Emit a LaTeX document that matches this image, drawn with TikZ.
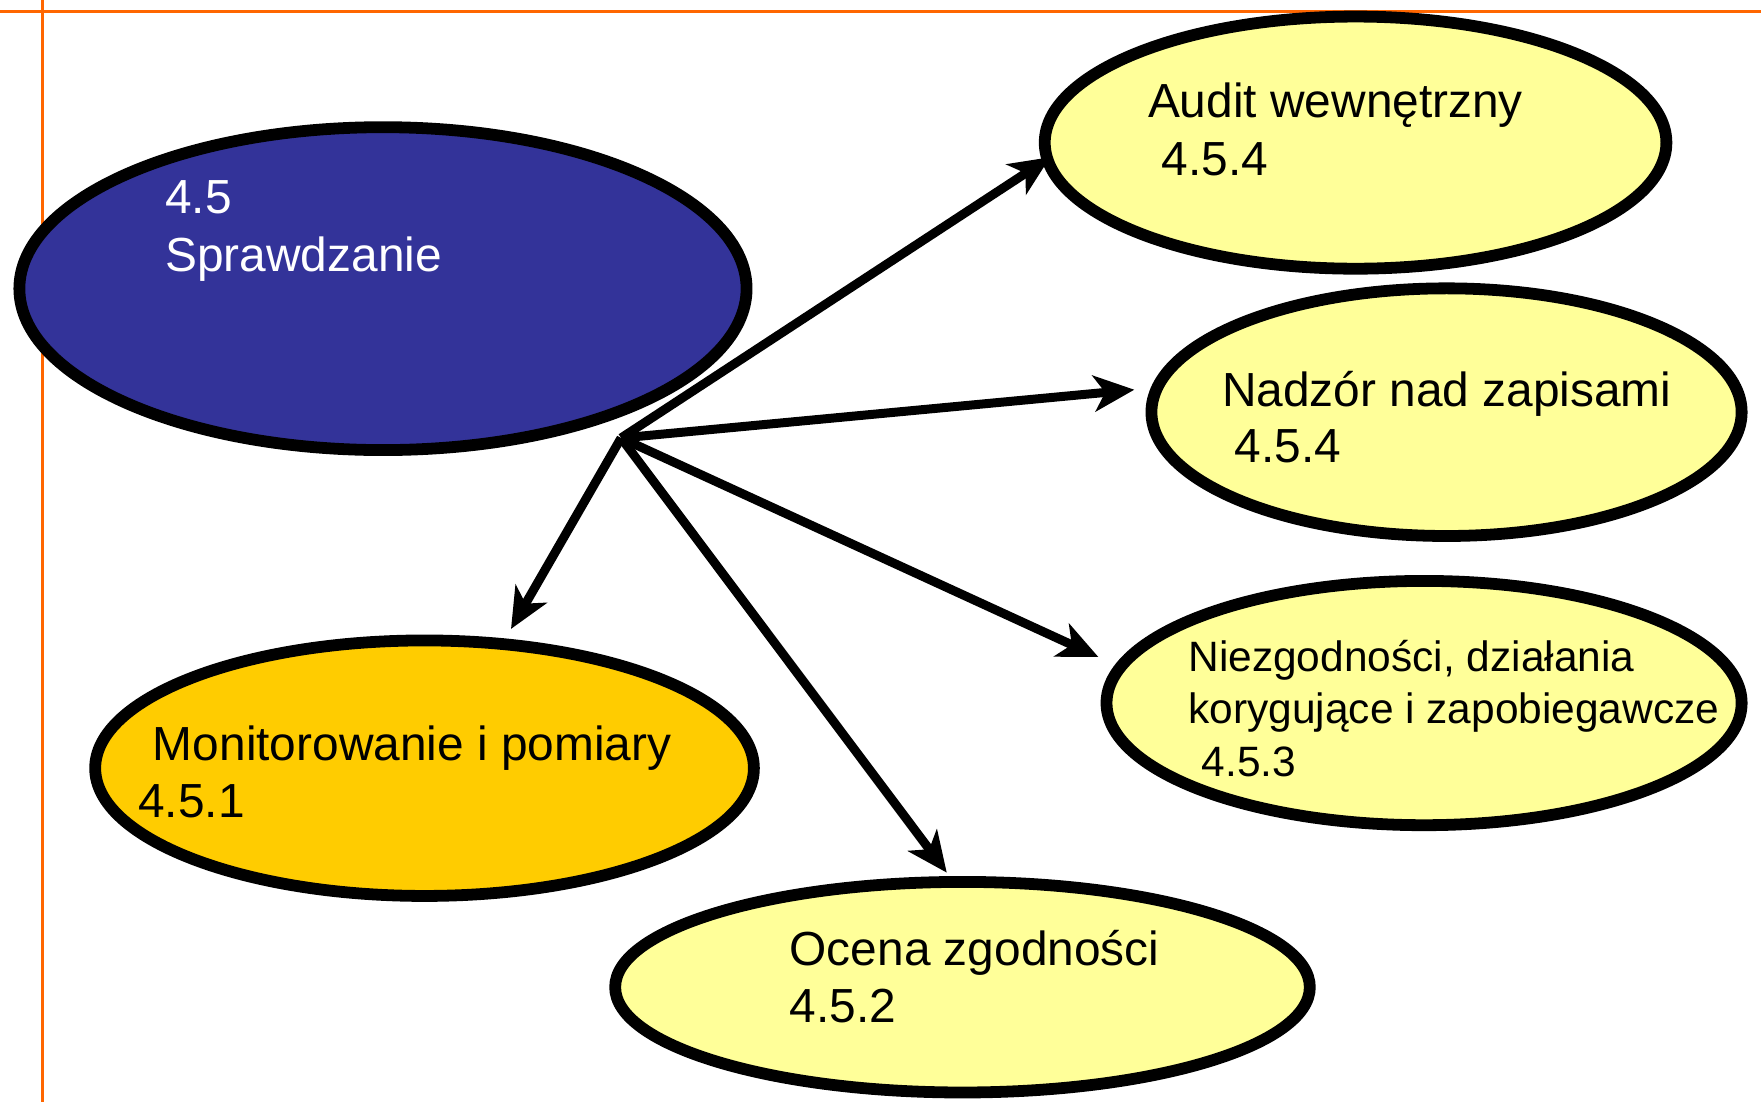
\documentclass[tikz,border=0pt]{standalone}
\usepackage{fontspec}
\setmainfont{Liberation Sans}
\usetikzlibrary{shapes.geometric,arrows.meta}
\definecolor{bluefill}{HTML}{333399}
\definecolor{paleyellow}{HTML}{FFFF99}
\definecolor{gold}{HTML}{FFCC00}
\definecolor{frameorange}{HTML}{FF6600}
\begin{document}
\begin{tikzpicture}[x=1pt,y=-1pt,
  bub/.style={ellipse,draw=black,line width=10.5pt,inner sep=0pt},
  txt/.style={anchor=base west,inner sep=0pt,font=\fontsize{42.6}{50}\selectfont},
  smalltxt/.style={anchor=base west,inner sep=0pt,font=\fontsize{37.8}{46}\selectfont},
  arr/.style={line width=8pt,-{Stealth[length=36pt,width=32pt,inset=10pt]}},
  frame/.style={draw=frameorange,line width=3pt}]
\useasboundingbox (0,0) rectangle (1568,981);
\draw[frame] (0,10) -- (1568,10);
\draw[frame] (38,0) -- (38,981);

\node[bub,fill=bluefill,minimum width=647.5pt,minimum height=287.5pt] (check) at (341,257) {};
\node[bub,fill=paleyellow,minimum width=553.5pt,minimum height=224.5pt] (audit) at (1207,127) {};
\node[bub,fill=paleyellow,minimum width=525.5pt,minimum height=220.5pt] (nadzor) at (1288,367) {};
\node[bub,fill=paleyellow,minimum width=565.5pt,minimum height=217.5pt] (niezg) at (1268,626) {};
\node[bub,fill=gold,minimum width=586.5pt,minimum height=227.5pt] (monit) at (378,684) {};
\node[bub,fill=paleyellow,minimum width=618.5pt,minimum height=187.5pt] (ocena) at (857,879) {};

\node[txt,text=white] (c1) at (147,190) {4.5};
\node[txt,text=white] (c2) at (147,242) {Sprawdzanie};
\node[txt] (a1) at (1022,105) {Audit wewnętrzny};
\node[txt] (a2) at (1034,156) {4.5.4};
\node[txt] (n1) at (1088,362) {Nadzór nad zapisami};
\node[txt] (n2) at (1099,412) {4.5.4};
\node[smalltxt] (z1) at (1058,598) {Niezgodności, działania};
\node[smalltxt] (z2) at (1058,644) {korygujące i zapobiegawcze};
\node[smalltxt] (z3) at (1070,691) {4.5.3};
\node[txt] (m1) at (136,677) {Monitorowanie i pomiary};
\node[txt] (m2) at (123,728) {4.5.1};
\node[txt] (o1) at (703,860) {Ocena zgodności};
\node[txt] (o2) at (703,910) {4.5.2};

\coordinate (hub) at (553,390);
\coordinate (ta) at (935,140);
\coordinate (tn) at (1010,347);
\coordinate (tz) at (978,585);
\coordinate (tm) at (455,560);
\coordinate (to) at (843,777);

\draw[arr] (hub) -- (ta);
\draw[arr] (hub) -- (tn);
\draw[arr] (hub) -- (tz);
\draw[arr] (hub) -- (tm);
\draw[arr] (hub) -- (to);
\end{tikzpicture}
\end{document}
